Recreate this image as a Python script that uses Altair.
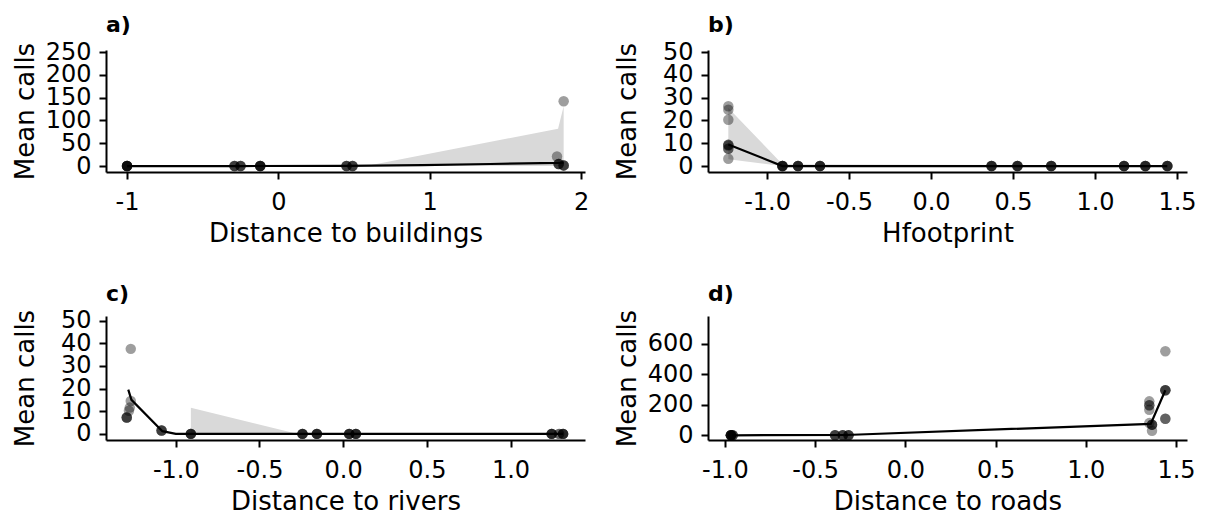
import altair as alt
import pandas as pd

FONT = "DejaVu Sans"

# ---------------- a) Distance to buildings ----------------
a_px = [-1.0, -1.0, -1.0, -1.0, -1.0, -1.0,
        -0.29, -0.29, -0.29, -0.25, -0.25, -0.25,
        -0.12, -0.12, -0.12, -0.12, -0.12,
        0.45, 0.45, 0.45, 0.49, 0.49, 0.49,
        1.841, 1.885, 1.852, 1.852, 1.852, 1.885, 1.885, 1.885]
a_py = [0, 0, 0, 0, 0, 0,
        0, 0, 0, 0, 0, 0,
        0, 0, 0, 0, 0,
        0, 0, 0, 0, 0, 0,
        21, 142, 4.4, 4.4, 4.4, 1.5, 1.5, 1.5]
a_lx = [-1.0, -0.25, 0.45, 0.95, 1.4, 1.85, 1.885]
a_ly = [0, 0.1, 0.5, 2, 4.5, 7, 7.5]
a_rx = [0.58, 1.848, 1.885]
a_rlo = [0, 0, 0]
a_rhi = [0, 82, 131]

# ---------------- b) Hfootprint ----------------
b_px = [-1.236, -1.236, -1.236, -1.236, -1.236, -1.236, -1.236, -1.236, -1.236,
        -0.906, -0.906, -0.906, -0.906, -0.906,
        -0.811, -0.811, -0.811, -0.811,
        -0.677, -0.677, -0.677, -0.677,
        0.369, 0.369, 0.369, 0.369,
        0.527, 0.527, 0.527, 0.527,
        0.733, 0.733, 0.733, 0.733,
        1.177, 1.177, 1.177, 1.177,
        1.307, 1.307, 1.307, 1.307,
        1.441, 1.441, 1.441, 1.441]
b_py = [26.2, 24.7, 20.3, 9.3, 9.3, 7.6, 7.6, 3.2, 9.0,
        0, 0, 0, 0, 0,
        0, 0, 0, 0,
        0, 0, 0, 0,
        0, 0, 0, 0,
        0, 0, 0, 0,
        0, 0, 0, 0,
        0, 0, 0, 0,
        0, 0, 0, 0,
        0, 0, 0, 0]
b_lx = [-1.236, -0.906, 1.441]
b_ly = [9.5, 0, 0]
b_rx = [-1.236, -0.906, 1.441]
b_rlo = [3.0, 0, 0]
b_rhi = [25.5, 0.8, 0.3]

# ---------------- c) Distance to rivers ----------------
c_px = [-1.269, -1.269, -1.275, -1.28, -1.293, -1.293, -1.293,
        -1.085, -1.085, -1.085,
        -0.91, -0.91, -0.91, -0.91,
        -0.243, -0.243, -0.243, -0.243,
        -0.157, -0.157, -0.157, -0.157,
        0.036, 0.036, 0.036, 0.036,
        0.076, 0.076, 0.076, 0.076,
        1.246, 1.246, 1.246, 1.246,
        1.29, 1.29,
        1.314, 1.314, 1.314, 1.314]
c_py = [37.5, 14.5, 11.6, 10.2, 7.2, 7.2, 7.2,
        1.5, 1.5, 1.5,
        0, 0, 0, 0,
        0, 0, 0, 0,
        0, 0, 0, 0,
        0, 0, 0, 0,
        0, 0, 0, 0,
        0, 0, 0, 0,
        0, 0,
        0, 0, 0, 0]
c_lx = [-1.284, -1.265, -1.08, -1.0, 1.314]
c_ly = [19.5, 15, 1.2, 0, 0]
c_rx = [-0.91, -0.27]
c_rlo = [0, 0]
c_rhi = [11.5, 0]

# ---------------- d) Distance to roads ----------------
d_px = [-0.967, -0.967, -0.967, -0.967, -0.967, -0.967,
        -0.957, -0.957, -0.957,
        -0.39, -0.39, -0.39, -0.347, -0.347, -0.347, -0.315, -0.315, -0.315,
        1.441, 1.441, 1.441, 1.441, 1.441, 1.441,
        1.352, 1.352, 1.352, 1.352, 1.367, 1.367, 1.367, 1.367, 1.352]
d_py = [0, 0, 0, 0, 0, 0,
        0, 0, 0,
        0, 0, 0, 0, 0, 0, 0, 0, 0,
        552, 296, 296, 296, 109, 109,
        223, 197, 197, 168, 70, 70, 70, 30, 80]
d_lx = [-0.96, -0.33, 1.36, 1.441]
d_ly = [0, 2, 75, 296]


def neg_fmt(fmt):
    return ("datum.value < 0 ? '-' + format(-datum.value, '%s') : format(datum.value, '%s')"
            % (fmt, fmt))


def panel(label, xtitle, px, py, lx, ly, rx, rlo, rhi, xdom, ydom, xticks, yticks,
          xfmt, w, h):
    xscale = alt.Scale(domain=xdom, nice=False, zero=False)
    yscale = alt.Scale(domain=ydom, nice=False, zero=False)
    xaxis = alt.Axis(values=xticks, title=xtitle, labelExpr=neg_fmt(xfmt),
                     titleX=w / 2, titleY=69, titleAlign="center",
                     titleBaseline="alphabetic", labelPadding=11)
    yaxis = alt.Axis(values=yticks, title="Mean calls", format="d",
                     titleX=-73, titleY=h / 2, titleAlign="center",
                     titleBaseline="alphabetic", titleAngle=270, labelPadding=8)
    layers = []
    if rx is not None:
        rib = pd.DataFrame({"x": rx, "lo": rlo, "hi": rhi})
        layers.append(
            alt.Chart(rib).mark_area(color="#d9d9d9", opacity=1, clip=True).encode(
                x=alt.X("x:Q", scale=xscale, axis=xaxis),
                y=alt.Y("hi:Q", scale=yscale, axis=yaxis),
                y2="lo:Q",
            )
        )
    pts = pd.DataFrame({"x": px, "y": py})
    layers.append(
        alt.Chart(pts).mark_circle(color="black", opacity=0.38, size=110, clip=True).encode(
            x=alt.X("x:Q", scale=xscale, axis=xaxis),
            y=alt.Y("y:Q", scale=yscale, axis=yaxis),
        )
    )
    ln = pd.DataFrame({"x": lx, "y": ly})
    layers.append(
        alt.Chart(ln).mark_line(color="black", strokeWidth=2.2, clip=True).encode(
            x=alt.X("x:Q", scale=xscale, axis=xaxis),
            y=alt.Y("y:Q", scale=yscale, axis=yaxis),
        )
    )
    return alt.layer(*layers).properties(
        width=w, height=h,
        title=alt.TitleParams(label, anchor="start", font=FONT, fontSize=22,
                              fontWeight="bold", color="black", offset=-14,
                              baseline="alphabetic", frame="group"),
    )


W = 479
pa = panel("a)", "Distance to buildings", a_px, a_py, a_lx, a_ly, a_rx, a_rlo, a_rhi,
           [-1.139, 2.026], [-13, 254.5], [-1, 0, 1, 2], [0, 50, 100, 150, 200, 250],
           "d", W, 122)
pb = panel("b)", "Hfootprint", b_px, b_py, b_lx, b_ly, b_rx, b_rlo, b_rhi,
           [-1.36, 1.561], [-2.6, 50.9], [-1.0, -0.5, 0.0, 0.5, 1.0, 1.5],
           [0, 10, 20, 30, 40, 50], ".1f", W, 122)
pc = panel("c)", "Distance to rivers", c_px, c_py, c_lx, c_ly, c_rx, c_rlo, c_rhi,
           [-1.417, 1.445], [-2.7, 52.0], [-1.0, -0.5, 0.0, 0.5, 1.0],
           [0, 10, 20, 30, 40, 50], ".1f", W, 124)
pd_ = panel("d)", "Distance to roads", d_px, d_py, d_lx, d_ly, None, None, None,
            [-1.094, 1.561], [-31, 784], [-1.0, -0.5, 0.0, 0.5, 1.0, 1.5],
            [0, 200, 400, 600], ".1f", W, 124)

row1 = alt.hconcat(pa, pb, spacing=123, bounds="flush")
row2 = alt.hconcat(pc, pd_, spacing=123, bounds="flush")
chart = alt.vconcat(row1, row2, spacing=266, bounds="flush").properties(
    padding={"left": 12, "top": 14, "right": 5, "bottom": 5},
    background="white",
).configure_view(stroke=None).configure_axis(
    domainColor="black", domainWidth=2, tickColor="black", tickWidth=2,
    tickSize=7, grid=False, labelFont=FONT, labelFontSize=24, labelColor="black",
    titleFont=FONT, titleFontSize=26, titleFontWeight="normal", titleColor="black",
    labelOverlap=False, labelFlush=False,
)

chart.save("out.html", embed_options={"renderer": "svg", "actions": False})
